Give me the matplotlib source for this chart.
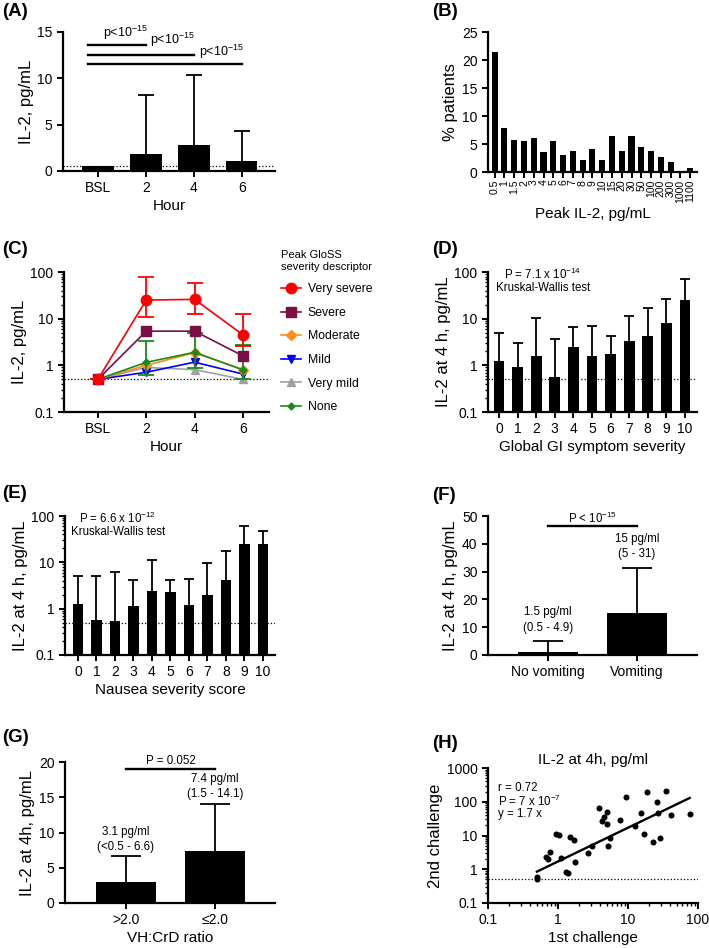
import matplotlib
matplotlib.use("Agg")
import matplotlib.pyplot as plt
import numpy as np
from matplotlib.ticker import LogLocator, NullFormatter, FuncFormatter

plt.rcParams["font.family"] = ["Liberation Sans", "DejaVu Sans"]
plt.rcParams["mathtext.fontset"] = "custom"
plt.rcParams["mathtext.rm"] = "Liberation Sans"
plt.rcParams["mathtext.it"] = "Liberation Sans:italic"
plt.rcParams["mathtext.bf"] = "Liberation Sans:bold"
plt.rcParams["axes.linewidth"] = 1.6
plt.rcParams["xtick.major.width"] = 1.4
plt.rcParams["ytick.major.width"] = 1.4
plt.rcParams["xtick.minor.width"] = 1.0
plt.rcParams["ytick.minor.width"] = 1.0
plt.rcParams["xtick.major.size"] = 4
plt.rcParams["ytick.major.size"] = 4
plt.rcParams["xtick.minor.size"] = 2.5
plt.rcParams["ytick.minor.size"] = 2.5
plt.rcParams["xtick.labelsize"] = 10
plt.rcParams["ytick.labelsize"] = 10
plt.rcParams["axes.labelpad"] = 2.5

XLAB = 11
YLAB = 12
NOTE = 8.3

# -------------------------------------------------
# Data
# -------------------------------------------------

# (A) IL-2 by hour, median + upper range
hours = ["BSL", "2", "4", "6"]
a_median = [0.5, 1.8, 2.8, 1.1]
a_upper = [0.5, 8.2, 10.4, 4.3]
a_bracket_end = [1, 2, 3]
a_bracket_y = [13.6, 12.5, 11.5]
a_ptext_x = [0.58, 1.56, 2.58]
a_ptext_y = [14.9, 14.2, 12.9]

# (B) peak IL-2 distribution
b_labels = ["0.5", "1", "1.5", "2", "3", "4", "5", "6", "7", "8", "9", "10",
            "15", "20", "30", "50", "100", "200", "300", "1000", "1100"]
b_pct = [21.4, 7.9, 5.8, 5.5, 6.1, 3.5, 5.5, 3.1, 3.75, 2.1, 4.1, 2.1,
         6.5, 3.75, 6.5, 4.5, 3.75, 2.7, 1.7, 0.0, 0.7]

# (C) IL-2 by peak GloSS severity descriptor
c_names = ["Very severe", "Severe", "Moderate", "Mild", "Very mild", "None"]
c_very_severe = [0.5, 25, 25.9, 4.5]
c_very_severe_low = [0.5, 11, 12.4, 2.6]
c_very_severe_high = [0.5, 78, 59, 12.6]
c_severe = [0.5, 5.4, 5.4, 1.6]
c_moderate = [0.5, 1.0, 1.87, 0.81]
c_mild = [0.5, 0.71, 1.17, 0.65]
c_very_mild = [0.5, 0.9, 0.81, 0.5]
c_none = [0.5, 1.16, 1.9, 0.8]
c_none_low = [0.5, 0.62, 0.87, 0.5]
c_none_high = [0.5, 3.3, 5.0, 2.7]

# (D) global GI symptom severity
d_scores = list(range(11))
d_median = [1.23, 0.93, 1.55, 0.55, 2.43, 1.6, 1.78, 3.3, 4.2, 8.1, 25]
d_upper = [5.0, 3.05, 10.2, 3.6, 6.5, 7.1, 4.3, 11.5, 17, 26, 70]

# (E) nausea severity score
e_scores = list(range(11))
e_median = [1.29, 0.58, 0.54, 1.13, 2.4, 2.24, 1.23, 1.95, 4.1, 25.4, 24.5]
e_upper = [5.0, 5.0, 6.2, 4.2, 11, 4.2, 4.4, 9.7, 17.6, 60, 47]

# (F) vomiting
f_groups = ["No vomiting", "Vomiting"]
f_median = [1.2, 15.2]
f_upper = [4.9, 31.4]
f_notes = ["1.5 pg/ml\n(0.5 - 4.9)", "15 pg/ml\n(5 - 31)"]

# (G) VH:CrD ratio
g_groups = [">2.0", "≤2.0"]
g_median = [3.0, 7.35]
g_upper = [6.6, 14.1]
g_notes = ["3.1 pg/ml\n(<0.5 - 6.6)", "7.4 pg/ml\n(1.5 - 14.1)"]

# (H) 1st vs 2nd challenge
h_first = [0.5, 0.5, 0.68, 0.73, 0.77, 0.95, 1.03, 1.12, 1.29, 1.38, 1.46, 1.71,
           1.75, 2.65, 3.03, 3.9, 4.2, 4.6, 4.95, 5.06, 5.1, 5.5, 7.8, 9.3,
           12.7, 15.3, 17.2, 18.6, 23.1, 25.8, 26.9, 29, 34.6, 41.7, 76]
h_second = [0.59, 0.53, 2.27, 2.03, 3.35, 11.2, 10.7, 2.17, 0.85, 0.76, 9.3, 7.3,
            1.6, 2.99, 4.8, 65, 26, 35, 21.7, 49, 5.0, 8.3, 29, 135,
            19.4, 45, 11.2, 189, 6.6, 98, 45, 8.7, 207, 41, 44]
h_slope = 1.7

LLOQ = 0.5

# -------------------------------------------------
# Helpers
# -------------------------------------------------

W, H = 709, 948
fig = plt.figure(figsize=(W / 100, H / 100), dpi=100)


def add_axes(left, top, right, bottom):
    return fig.add_axes([left / W, 1 - bottom / H, (right - left) / W, (bottom - top) / H])


def style(ax):
    ax.spines["top"].set_visible(False)
    ax.spines["right"].set_visible(False)
    ax.tick_params(direction="out", which="both")


def bars_up(ax, x, med, upper, width, cap):
    # bar + upper-only error bar with a cap (GraphPad style)
    ax.bar(x, med, width, color="black", zorder=2)
    ax.vlines(x, med, upper, color="black", lw=1.3, zorder=3)
    ax.plot(x, upper, ls="none", marker="_", ms=cap, mew=1.3, color="black", zorder=3)


def log_axis(axis):
    axis.set_major_locator(LogLocator(base=10))
    axis.set_minor_locator(LogLocator(base=10, subs=np.arange(2, 10)))
    axis.set_minor_formatter(NullFormatter())
    axis.set_major_formatter(FuncFormatter(lambda v, p: f"{v:g}"))


def fig_text(px, py, s, **kw):
    fig.text(px / W, 1 - py / H, s, **kw)


def panel_label(px, py, s):
    fig_text(px, py, s, fontsize=13.5, fontweight="bold", va="center", ha="left")


# -------------------------------------------------
# (A)
# -------------------------------------------------

ax = add_axes(63, 32, 275, 171)
style(ax)
xa = np.arange(len(hours))
bars_up(ax, xa[1:], a_median[1:], a_upper[1:], 0.65, 12)
ax.bar(xa[:1], a_median[:1], 0.65, color="black", zorder=2)
ax.axhline(LLOQ, color="black", ls=":", lw=0.9, zorder=1)
for end, yb in zip(a_bracket_end, a_bracket_y):
    ax.plot([-0.2, end], [yb, yb], color="black", lw=1.7)
for tx, ty in zip(a_ptext_x, a_ptext_y):
    ax.text(tx, ty, r"p<10$^{-15}$", fontsize=9, ha="center", va="center")
ax.set_xlim(-0.73, 3.69)
ax.set_ylim(0, 15)
ax.set_yticks([0, 5, 10, 15])
ax.set_xticks(xa)
ax.set_xticklabels(hours)
ax.set_xlabel("Hour", fontsize=XLAB)
ax.set_ylabel("IL-2, pg/mL", fontsize=YLAB)
panel_label(2, 12, "(A)")

# -------------------------------------------------
# (B)
# -------------------------------------------------

ax = add_axes(488, 32, 697, 172)
style(ax)
xb = np.arange(len(b_labels))
ax.bar(xb, b_pct, 0.62, color="black")
ax.set_xlim(-0.68, len(b_labels) - 0.3)
ax.set_ylim(0, 25)
ax.set_yticks([0, 5, 10, 15, 20, 25])
ax.set_xticks(xb)
ax.set_xticklabels(b_labels, rotation=90, fontsize=7.5)
ax.tick_params(axis="x", pad=1.5)
ax.set_xlabel("Peak IL-2, pg/mL", fontsize=XLAB, labelpad=3)
ax.set_ylabel("% patients", fontsize=YLAB)
panel_label(432, 12, "(B)")

# -------------------------------------------------
# (C)
# -------------------------------------------------

ax = add_axes(64, 272, 269, 412)
style(ax)
xc = np.arange(len(hours))
ax.axhline(LLOQ, color="black", ls=":", lw=0.9, zorder=1)
series = [
    ("Very mild", c_very_mild, "#A0A0A0", "^", 6),
    ("Mild", c_mild, "#0000FF", "v", 6),
    ("Moderate", c_moderate, "#FF8C1A", "D", 5),
    ("None", c_none, "#1A8A1A", "D", 3.5),
    ("Severe", c_severe, "#7A0F45", "s", 6.5),
    ("Very severe", c_very_severe, "#FF0000", "o", 7.5),
]
bands = {"None": (c_none_low, c_none_high), "Very severe": (c_very_severe_low, c_very_severe_high)}
handles = {}
for name, vals, col, mk, ms in series:
    v = np.array(vals)
    if name in bands:
        lo, hi = bands[name]
        ax.errorbar(xc, v, yerr=[v - np.array(lo), np.array(hi) - v], fmt="none",
                    ecolor=col, elinewidth=1.3, capsize=6, capthick=1.3, zorder=4)
    (ln,) = ax.plot(xc, v, color=col, marker=mk, ms=ms, lw=1.2, zorder=4)
    handles[name] = ln
ax.set_yscale("log")
ax.set_ylim(0.1, 100)
log_axis(ax.yaxis)
ax.set_xlim(-0.7, 3.54)
ax.set_xticks(xc)
ax.set_xticklabels(hours)
ax.set_xlabel("Hour", fontsize=XLAB)
ax.set_ylabel("IL-2, pg/mL", fontsize=YLAB)
ax.legend([handles[n] for n in c_names], c_names, loc="upper left",
          bbox_to_anchor=(270 / W, 1 - 239 / H), bbox_transform=fig.transFigure,
          frameon=False, fontsize=8.8, title="Peak GloSS\nseverity descriptor",
          title_fontsize=8, labelspacing=0.95, handlelength=1.6, handletextpad=0.6,
          alignment="center")
panel_label(2, 250, "(C)")

# -------------------------------------------------
# (D)
# -------------------------------------------------

ax = add_axes(488, 272, 697, 412)
style(ax)
bars_up(ax, d_scores, d_median, d_upper, 0.58, 7)
ax.axhline(LLOQ, color="black", ls=":", lw=0.9, zorder=4)
ax.set_yscale("log")
ax.set_ylim(0.1, 100)
log_axis(ax.yaxis)
ax.set_xlim(-0.59, 10.65)
ax.set_xticks(d_scores)
ax.set_xlabel("Global GI symptom severity", fontsize=XLAB)
ax.set_ylabel("IL-2 at 4 h, pg/mL", fontsize=YLAB)
fig_text(543, 274, "P = 7.1 x 10$^{-14}$", fontsize=NOTE, ha="center", va="center")
fig_text(543, 288, "Kruskal-Wallis test", fontsize=NOTE, ha="center", va="center")
panel_label(432, 250, "(D)")

# -------------------------------------------------
# (E)
# -------------------------------------------------

ax = add_axes(65, 516, 275, 655)
style(ax)
bars_up(ax, e_scores, e_median, e_upper, 0.58, 7)
ax.axhline(LLOQ, color="black", ls=":", lw=0.9, zorder=4)
ax.set_yscale("log")
ax.set_ylim(0.1, 100)
log_axis(ax.yaxis)
ax.set_xlim(-0.7, 10.65)
ax.set_xticks(e_scores)
ax.set_xlabel("Nausea severity score", fontsize=XLAB)
ax.set_ylabel("IL-2 at 4 h, pg/mL", fontsize=YLAB)
fig_text(118, 518, "P = 6.6 x 10$^{-12}$", fontsize=NOTE, ha="center", va="center")
fig_text(118, 532, "Kruskal-Wallis test", fontsize=NOTE, ha="center", va="center")
panel_label(2, 494, "(E)")

# -------------------------------------------------
# (F)
# -------------------------------------------------

ax = add_axes(488, 516, 697, 655)
style(ax)
xf = np.arange(len(f_groups))
bars_up(ax, xf, f_median, f_upper, 0.67, 22)
ax.plot([0, 1], [46.4, 46.4], color="black", lw=1.7)
ax.text(0.5, 49.3, r"P < 10$^{-15}$", fontsize=NOTE, ha="center", va="center")
for x, up, note in zip(xf, f_upper, f_notes):
    ax.text(x, up + 7.6, note, fontsize=NOTE, ha="center", va="center", linespacing=1.4)
ax.set_xlim(-0.674, 1.674)
ax.set_ylim(0, 50)
ax.set_yticks([0, 10, 20, 30, 40, 50])
ax.set_xticks(xf)
ax.set_xticklabels(f_groups)
ax.set_ylabel("IL-2 at 4 h, pg/mL", fontsize=YLAB)
panel_label(432, 495, "(F)")

# -------------------------------------------------
# (G)
# -------------------------------------------------

ax = add_axes(65, 762, 275, 903)
style(ax)
xg = np.arange(len(g_groups))
bars_up(ax, xg, g_median, g_upper, 0.67, 22)
ax.plot([0, 1], [19.05, 19.05], color="black", lw=1.7)
ax.text(0.5, 20.2, "P = 0.052", fontsize=NOTE, ha="center", va="center")
for x, up, note in zip(xg, g_upper, g_notes):
    ax.text(x, up + 2.4, note, fontsize=NOTE, ha="center", va="center", linespacing=1.4)
ax.set_xlim(-0.685, 1.674)
ax.set_ylim(0, 20)
ax.set_yticks([0, 5, 10, 15, 20])
ax.set_xticks(xg)
ax.set_xticklabels(g_groups)
ax.set_xlabel("VH:CrD ratio", fontsize=XLAB)
ax.set_ylabel("IL-2 at 4h, pg/mL", fontsize=YLAB)
panel_label(2, 738, "(G)")

# -------------------------------------------------
# (H)
# -------------------------------------------------

ax = add_axes(488, 768, 698, 903)
style(ax)
ax.scatter(h_first, h_second, s=19, color="black", zorder=3, linewidths=0)
xfit = np.array([min(h_first), max(h_first)])
ax.plot(xfit, h_slope * xfit, color="black", lw=1.7, zorder=2)
ax.axhline(LLOQ, color="black", ls=":", lw=0.9, zorder=1)
ax.set_yscale("log")
ax.set_xscale("log")
ax.set_ylim(0.1, 1000)
ax.set_xlim(0.1, 100)
log_axis(ax.yaxis)
log_axis(ax.xaxis)
ax.set_title("IL-2 at 4h, pg/ml", fontsize=11, pad=3)
fig_text(498, 788, "r = 0.72", fontsize=NOTE, ha="left", va="center")
fig_text(498, 801, "P = 7 x 10$^{-7}$", fontsize=NOTE, ha="left", va="center")
fig_text(498, 814, "y = 1.7 x", fontsize=NOTE, ha="left", va="center")
ax.set_xlabel("1st challenge", fontsize=XLAB)
ax.set_ylabel("2nd challenge", fontsize=YLAB)
panel_label(432, 743, "(H)")

fig.savefig("out.png", dpi=100)
